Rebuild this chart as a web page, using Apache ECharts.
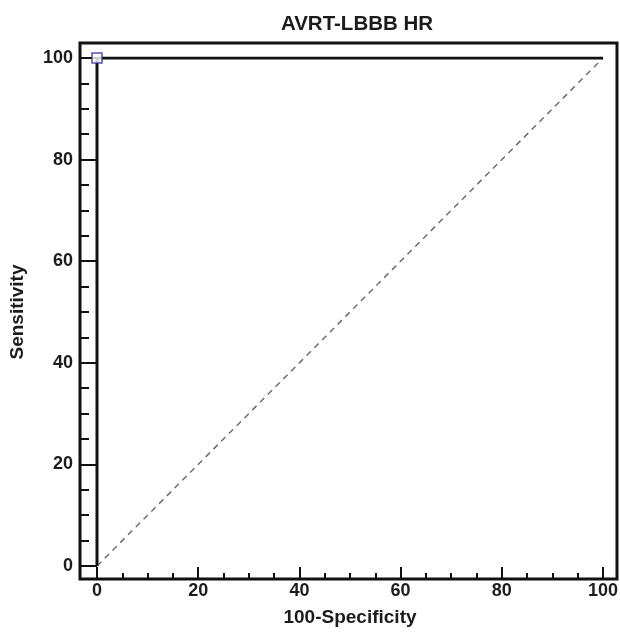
<!DOCTYPE html>
<html>
<head>
<meta charset="utf-8">
<script src="https://cdn.jsdelivr.net/npm/echarts@6/dist/echarts.min.js"></script>
<style>
  html, body { margin: 0; padding: 0; background: #fff; }
  #chart { width: 620px; height: 637px; }
</style>
</head>
<body>
<div id="chart"></div>
<script>
// ROC curve for AVRT-LBBB HR
const rocSpecComplement = [0, 0, 100];   // 100 - Specificity
const rocSensitivity    = [0, 100, 100]; // Sensitivity
const referenceX = [0, 100];             // chance diagonal
const referenceY = [0, 100];
const criterionX = [0];                  // optimal criterion point
const criterionY = [100];
const axisTicks = [0, 20, 40, 60, 80, 100];

const FONT = 'Liberation Sans, Arial, sans-serif';
const TEXT = '#1c1c1c';
const INK = '#111';

// gaps between the plotting area and the surrounding frame
const FRAME_GAP = { left: 17, bottom: 13, top: 15, right: 14 };

const pairs = (xs, ys) => xs.map((x, i) => [x, ys[i]]);

const chart = echarts.init(document.getElementById('chart'), null, { renderer: 'canvas' });

const tickLabelStyle = {
  fontFamily: FONT, fontWeight: 'bold', fontSize: 18, color: TEXT
};

chart.setOption({
  animation: false,
  backgroundColor: '#fff',
  title: {
    text: 'AVRT-LBBB HR',
    left: 352,
    top: 9,
    textAlign: 'center',
    textStyle: { fontFamily: FONT, fontWeight: 'bold', fontSize: 20.5, color: TEXT }
  },
  grid: { left: 97, right: 17, top: 58, bottom: 71, outerBoundsMode: 'none', containLabel: false },
  xAxis: {
    type: 'value',
    position: 'bottom',
    min: axisTicks[0],
    max: axisTicks[axisTicks.length - 1],
    interval: 20,
    offset: FRAME_GAP.bottom,
    name: '100-Specificity',
    nameLocation: 'middle',
    nameGap: 29,
    nameTextStyle: { fontFamily: FONT, fontWeight: 'bold', fontSize: 19, color: TEXT },
    axisLine: { show: false, onZero: false },
    axisTick: { show: true, inside: true, length: 12, lineStyle: { color: INK, width: 2 } },
    minorTick: { show: true, splitNumber: 4, length: 6, lineStyle: { color: INK, width: 2 } },
    axisLabel: Object.assign({ margin: 3 }, tickLabelStyle),
    splitLine: { show: false }
  },
  yAxis: {
    type: 'value',
    position: 'left',
    min: axisTicks[0],
    max: axisTicks[axisTicks.length - 1],
    interval: 20,
    offset: FRAME_GAP.left,
    name: 'Sensitivity',
    nameLocation: 'middle',
    nameGap: 53,
    nameTextStyle: { fontFamily: FONT, fontWeight: 'bold', fontSize: 19, color: TEXT },
    axisLine: { show: false, onZero: false },
    axisTick: { show: true, inside: true, length: 17, lineStyle: { color: INK, width: 2 } },
    minorTick: { show: true, splitNumber: 4, length: 9, lineStyle: { color: INK, width: 2 } },
    axisLabel: Object.assign({ margin: 7 }, tickLabelStyle),
    splitLine: { show: false }
  },
  series: [
    {
      name: 'Reference',
      type: 'line',
      data: pairs(referenceX, referenceY),
      showSymbol: false,
      symbol: 'none',
      lineStyle: { color: '#6e6e6e', width: 1.5, type: [6, 5] },
      z: 2
    },
    {
      name: 'ROC',
      type: 'line',
      data: pairs(rocSpecComplement, rocSensitivity),
      showSymbol: false,
      symbol: 'none',
      lineStyle: { color: INK, width: 3 },
      z: 3
    },
    {
      name: 'Criterion',
      type: 'scatter',
      data: pairs(criterionX, criterionY),
      symbol: 'rect',
      symbolSize: 10,
      itemStyle: { color: '#fff', borderColor: '#2a2aa0', borderWidth: 1.5 },
      z: 4
    }
  ]
});

// Closed frame around the plot, offset from the data area like the axes
const lo = chart.convertToPixel({ gridIndex: 0 }, [axisTicks[0], axisTicks[0]]);
const hi = chart.convertToPixel({ gridIndex: 0 }, [axisTicks[axisTicks.length - 1], axisTicks[axisTicks.length - 1]]);
const fx0 = lo[0] - FRAME_GAP.left;
const fx1 = hi[0] + FRAME_GAP.right;
const fy0 = hi[1] - FRAME_GAP.top;
const fy1 = lo[1] + FRAME_GAP.bottom;
chart.setOption({
  graphic: [{
    type: 'rect',
    shape: { x: fx0, y: fy0, width: fx1 - fx0, height: fy1 - fy0 },
    style: { fill: 'none', stroke: INK, lineWidth: 3 },
    z: 10
  }]
});
</script>
</body>
</html>
